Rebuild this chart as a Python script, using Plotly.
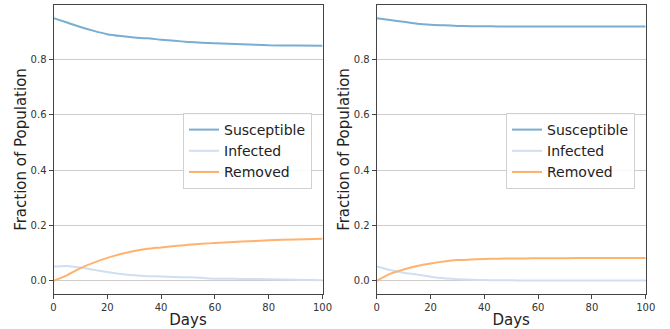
import plotly.graph_objects as go

days = [0, 5, 10, 15, 20, 25, 30, 35, 40, 45, 50, 55, 60, 70, 80, 90, 100]

# Left panel
s_left = [0.950, 0.934, 0.918, 0.904, 0.892, 0.885, 0.880, 0.877, 0.872, 0.868, 0.864, 0.861, 0.859, 0.856, 0.852, 0.851, 0.850]
i_left = [0.052, 0.054, 0.048, 0.040, 0.032, 0.025, 0.020, 0.017, 0.016, 0.014, 0.013, 0.011, 0.008, 0.007, 0.006, 0.004, 0.002]
r_left = [0.000, 0.020, 0.046, 0.066, 0.083, 0.097, 0.108, 0.116, 0.121, 0.126, 0.131, 0.134, 0.137, 0.142, 0.147, 0.150, 0.152]

# Right panel
s_right = [0.950, 0.943, 0.937, 0.930, 0.926, 0.924, 0.922, 0.921, 0.921, 0.920, 0.920, 0.920, 0.920, 0.920, 0.920, 0.920, 0.920]
i_right = [0.052, 0.039, 0.029, 0.023, 0.015, 0.009, 0.006, 0.004, 0.003, 0.002, 0.002, 0.001, 0.001, 0.001, 0.001, 0.001, 0.001]
r_right = [0.000, 0.025, 0.041, 0.054, 0.063, 0.070, 0.075, 0.077, 0.079, 0.080, 0.081, 0.081, 0.082, 0.082, 0.083, 0.083, 0.083]

names = ["Susceptible", "Infected", "Removed"]
colors = ["#79add2", "#cfdff1", "#ffb26e"]

x_ticks = [0, 20, 40, 60, 80, 100]
y_ticks = [0.0, 0.2, 0.4, 0.6, 0.8]

fig = go.Figure()

panels = [
    ("x", "y", "legend", [s_left, i_left, r_left]),
    ("x2", "y2", "legend2", [s_right, i_right, r_right]),
]
for xa, ya, lg, series in panels:
    for name, col, vals in zip(names, colors, series):
        fig.add_trace(go.Scatter(
            x=days, y=vals, mode="lines", name=name,
            line=dict(color=col, width=2, shape="spline", smoothing=0.6),
            xaxis=xa, yaxis=ya, legend=lg,
        ))

font = "DejaVu Sans, sans-serif"
W, H = 670, 329

def xaxis(domain, anchor):
    return dict(
        domain=domain, anchor=anchor, range=[0, 100], tickvals=x_ticks,
        automargin=False,
        showgrid=False, zeroline=False, showline=True, mirror=True,
        linecolor="#444", linewidth=1, ticks="outside", ticklen=4,
        tickcolor="#444", tickfont=dict(size=10, color="#333", family=font),
        title=dict(text="Days", font=dict(size=15, color="#222", family=font), standoff=2),
    )

def yaxis(anchor):
    return dict(
        domain=[1 - 294 / H, 1 - 5 / H], anchor=anchor, range=[-0.0475, 0.9975],
        automargin=False,
        tickvals=y_ticks, tickformat=".1f",
        showgrid=True, gridcolor="#cccccc", gridwidth=1, zeroline=False,
        showline=True, mirror=True, linecolor="#444", linewidth=1,
        ticks="outside", ticklen=4, tickcolor="#444",
        tickfont=dict(size=10, color="#333", family=font),
        title=dict(text="Fraction of Population", font=dict(size=15, color="#222", family=font), standoff=0),
    )

def legend(x):
    return dict(
        x=x, y=1 - 113 / H, xanchor="left", yanchor="top",
        bgcolor="rgba(255,255,255,0.85)", bordercolor="#d0d0d0", borderwidth=1,
        font=dict(size=14, color="#222", family=font),
        itemwidth=30, tracegroupgap=0,
    )

fig.update_layout(
    width=W, height=H,
    margin=dict(l=0, r=0, t=0, b=0, autoexpand=False),
    paper_bgcolor="white", plot_bgcolor="white",
    font=dict(family=font),
    xaxis=xaxis([53.5 / W, 322.5 / W], "y"),
    yaxis=yaxis("x"),
    xaxis2=xaxis([376.7 / W, 645.7 / W], "y2"),
    yaxis2=yaxis("x2"),
    legend=legend(183 / W),
    legend2=legend(506 / W),
    showlegend=True,
)

fig.write_html("out.html", config={"displayModeBar": False},
               post_script="document.body.style.margin='0';")
